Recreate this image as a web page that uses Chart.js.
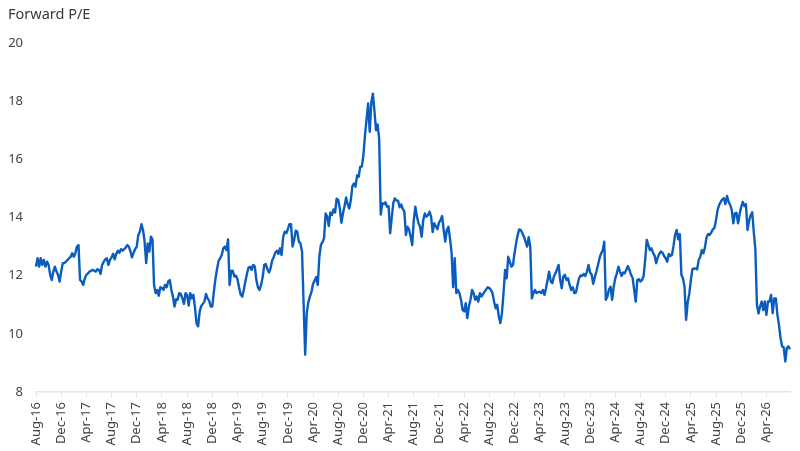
<!DOCTYPE html>
<html>
<head>
<meta charset="utf-8">
<script src="https://cdn.jsdelivr.net/npm/chart.js@4.4.1/dist/chart.umd.min.js"></script>
<style>
  html, body { margin: 0; padding: 0; background: #ffffff; }
  #wrap { width: 800px; height: 451px; position: relative; }
</style>
</head>
<body>
<div id="wrap"><canvas id="c" width="800" height="451"></canvas></div>
<script>
// ---- Data ----
const TITLE = 'Forward P/E';
const START_YEAR = 2016;
const START_MONTH = 7; // August (0-based)
const MONTH_COUNT = 120;
const WEEKS_PER_MONTH = 4;
const MONTH_NAMES = ['Jan','Feb','Mar','Apr','May','Jun','Jul','Aug','Sep','Oct','Nov','Dec'];
const TICK_EVERY_MONTHS = 4;
const yTicks = [8, 10, 12, 14, 16, 18, 20];

// Forward P/E, approx. weekly readings (4 per month), Aug-16 .. Jul-26
const peValues = [
  // 2016 Aug-Dec
  12.31, 12.60, 12.31, 12.60,  12.37, 12.54, 12.31, 12.48,  12.37, 12.03, 11.85, 12.14,
  12.31, 12.14, 12.03, 11.80,  12.14, 12.43, 12.43, 12.48,
  // 2017
  12.54, 12.60, 12.65, 12.77,  12.65, 12.77, 13.00, 13.05,  11.85, 11.80, 11.68, 11.91,
  12.03, 12.08, 12.14, 12.17,  12.20, 12.17, 12.14, 12.22,  12.20, 12.06, 12.37, 12.48,
  12.56, 12.60, 12.37, 12.54,  12.63, 12.75, 12.56, 12.75,  12.86, 12.79, 12.91, 12.86,
  12.91, 12.97, 13.05, 13.00,  12.83, 12.63, 12.79, 12.91,  13.00, 13.40, 13.51, 13.77,
  // 2018
  13.57, 13.17, 12.43, 13.11,  12.83, 13.34, 13.25, 11.68,  11.40, 11.51, 11.31, 11.60,
  11.57, 11.51, 11.68, 11.60,  11.80, 11.85, 11.51, 11.28,  10.94, 11.19, 11.17, 11.40,
  11.37, 11.22, 11.03, 11.40,  11.34, 10.97, 11.40, 11.22,  11.34, 10.90, 10.35, 10.26,
  10.77, 10.96, 11.03, 11.11,  11.37, 11.22, 11.14, 10.94,  10.94, 11.45, 11.89, 12.22,
  // 2019
  12.51, 12.60, 12.71, 12.94,  13.00, 12.88, 13.25, 11.68,  12.16, 12.17, 11.97, 12.00,
  11.88, 11.60, 11.35, 11.28,  11.51, 11.80, 12.06, 12.27,  12.31, 12.20, 12.37, 12.31,
  11.85, 11.60, 11.51, 11.68,  11.95, 12.37, 12.40, 12.22,  12.11, 12.25, 12.52, 12.63,
  12.79, 12.86, 12.75, 12.94,  12.71, 13.32, 13.51, 13.46,  13.60, 13.77, 13.77, 13.00,
  // 2020
  13.23, 13.55, 13.51, 13.17,  13.11, 12.83, 11.05,  9.28,  10.71, 11.08, 11.28, 11.44,
  11.72, 11.83, 11.95, 11.68,  12.66, 13.06, 13.15, 13.29,  14.14, 14.03, 13.71, 14.17,
  14.09, 14.28, 14.17, 14.65,  14.60, 14.31, 13.82, 14.14,  14.39, 14.69, 14.46, 14.31,
  14.60, 15.08, 15.17, 15.06,  15.45, 15.40, 15.75, 15.75,  16.15, 16.83, 17.37, 17.92,
  // 2021
  16.95, 17.94, 18.26, 17.67,  17.00, 17.20, 16.70, 14.10,  14.49, 14.46, 14.52, 14.37,
  14.39, 13.46, 14.00, 14.50,  14.66, 14.58, 14.58, 14.35,  14.45, 14.30, 14.20, 13.40,
  13.68, 13.59, 13.34, 13.05,  13.91, 14.37, 14.03, 13.80,  13.68, 13.34, 13.91, 14.14,
  14.03, 14.08, 14.20, 14.03,  13.50, 13.80, 13.70, 13.60,  13.82, 13.91, 14.05, 13.57,
  // 2022
  13.17, 13.57, 13.68, 13.28,  12.80, 11.60, 12.60, 11.40,  11.51, 11.40, 11.17, 10.82,
  10.77, 11.05, 10.54, 10.94,  11.17, 11.51, 11.40, 11.17,  11.28, 11.11, 11.40, 11.28,
  11.37, 11.45, 11.53, 11.60,  11.57, 11.51, 11.40, 11.11,  10.88, 11.00, 10.60, 10.37,
  10.71, 11.40, 12.20, 11.91,  12.65, 12.48, 12.31, 12.37,  12.77, 13.11, 13.40, 13.59,
  // 2023
  13.57, 13.46, 13.34, 13.17,  13.00, 13.32, 13.00, 11.22,  11.40, 11.51, 11.40, 11.43,
  11.45, 11.40, 11.51, 11.34,  11.57, 11.85, 12.14, 11.80,  11.74, 11.97, 12.08, 12.22,
  12.37, 11.85, 11.57, 11.97,  12.03, 11.85, 11.91, 11.68,  11.51, 11.60, 11.40, 11.42,
  11.68, 11.91, 12.01, 11.99,  12.06, 11.99, 12.14, 12.37,  12.11, 12.03, 11.72, 11.95,
  // 2024
  12.14, 12.37, 12.60, 12.77,  12.86, 13.17, 11.17, 11.28,  11.53, 11.62, 11.17, 11.62,
  11.91, 12.08, 12.31, 12.14,  11.99, 12.11, 12.08, 12.20,  12.33, 12.20, 12.03, 11.93,
  11.51, 11.11, 11.85, 11.88,  11.80, 11.85, 11.99, 12.54,  13.23, 13.05, 12.88, 12.94,
  12.79, 12.68, 12.43, 12.63,  12.75, 12.83, 12.79, 12.68,  12.60, 12.48, 12.75, 12.68,
  // 2025
  12.71, 13.02, 13.40, 13.57,  13.25, 13.43, 12.03, 11.90,  11.62, 10.48, 11.08, 11.37,
  11.85, 12.22, 12.25, 12.24,  12.22, 12.54, 12.65, 12.88,  12.77, 12.98, 13.32, 13.43,
  13.40, 13.49, 13.59, 13.65,  13.91, 14.26, 14.43, 14.54,  14.62, 14.66, 14.46, 14.74,
  14.54, 14.43, 14.26, 13.80,  14.14, 14.16, 13.80, 14.12,  14.37, 14.54, 14.39, 14.46,
  // 2026 Jan-Jul
  13.57, 13.89, 14.07, 14.18,  13.50, 12.90, 11.00, 10.70,  10.94, 11.11, 10.82, 11.11,
  10.65, 11.11, 11.11, 11.34,  10.71, 11.22, 11.22, 10.65,  10.31,  9.85,  9.57,  9.54,
   9.05,  9.51,  9.57,  9.47
];

// Category labels: one per weekly reading, named by its month
const categories = [];
for (let m = 0; m < MONTH_COUNT; m++) {
  const mi = (START_MONTH + m) % 12;
  const yr = START_YEAR + Math.floor((START_MONTH + m) / 12);
  const lab = MONTH_NAMES[mi] + '-' + String(yr % 100).padStart(2, '0');
  for (let w = 0; w < WEEKS_PER_MONTH; w++) categories.push(lab);
}

const FONT = "'Noto Sans', 'Open Sans', sans-serif";
const TEXT_COLOR = '#444444';
const AXIS_COLOR = '#d9e8f6';
const LINE_COLOR = '#0a5dbf';

const titlePlugin = {
  id: 'topTitle',
  afterDraw(chart) {
    const ctx = chart.ctx;
    ctx.save();
    ctx.font = '14.5px ' + FONT;
    ctx.fillStyle = '#3a3a3a';
    ctx.textAlign = 'left';
    ctx.textBaseline = 'alphabetic';
    ctx.fillText(TITLE, 8, 19);
    ctx.restore();
  }
};

new Chart(document.getElementById('c'), {
  type: 'line',
  data: {
    labels: categories,
    datasets: [{
      data: peValues,
      borderColor: LINE_COLOR,
      borderWidth: 2.4,
      borderJoinStyle: 'round',
      pointRadius: 0,
      pointHoverRadius: 0,
      tension: 0,
      fill: false
    }]
  },
  options: {
    responsive: false,
    animation: false,
    devicePixelRatio: 1,
    layout: { padding: { top: 43, right: 10, bottom: 0, left: 0 } },
    plugins: { legend: { display: false }, tooltip: { enabled: false }, title: { display: false } },
    scales: {
      x: {
        type: 'category',
        offset: false,
        grid: { display: true, drawOnChartArea: false, drawTicks: true, tickLength: 5, color: AXIS_COLOR, lineWidth: 1 },
        border: { display: true, color: AXIS_COLOR, width: 1.5 },
        ticks: {
          autoSkip: false, maxRotation: 90, minRotation: 90, padding: 5,
          color: TEXT_COLOR, font: { size: 13, family: FONT }
        },
        afterBuildTicks(scale) {
          const step = TICK_EVERY_MONTHS * WEEKS_PER_MONTH;
          scale.ticks = scale.ticks.filter((t, i) => i % step === 0);
        },
        afterFit(scale) { scale.height = 59; }
      },
      y: {
        min: 8, max: 20,
        afterBuildTicks(scale) { scale.ticks = yTicks.map(v => ({ value: v })); },
        grid: { display: false, drawTicks: false },
        border: { display: false },
        ticks: { padding: 13, color: TEXT_COLOR, font: { size: 13, family: FONT } },
        afterFit(scale) { scale.width = 36; }
      }
    }
  },
  plugins: [titlePlugin]
});
</script>
</body>
</html>
